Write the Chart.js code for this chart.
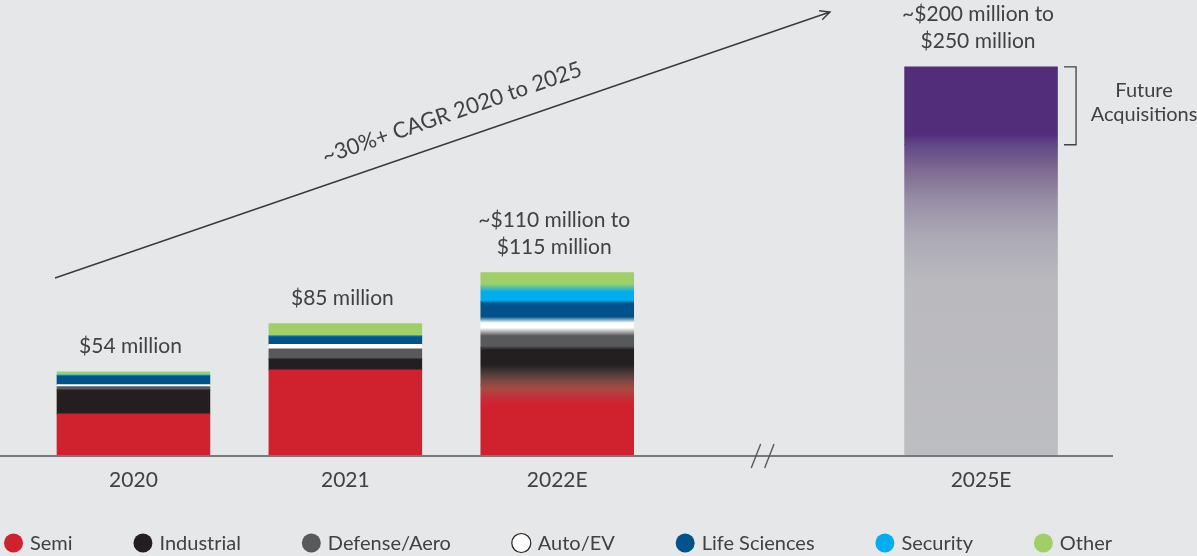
<!DOCTYPE html>
<html>
<head>
<meta charset="utf-8">
<script src="https://cdn.jsdelivr.net/npm/chart.js@4.4.1/dist/chart.umd.min.js"></script>
<style>
  html, body { margin: 0; padding: 0; background: #e6e7e8; }
  #wrap { width: 1197px; height: 556px; }
</style>
</head>
<body>
<div id="wrap"><canvas id="revenueChart"></canvas></div>
<script>
// revenue by end market, $ millions
const categories = ['2020', '2021', '2022E', '', '2025E'];
const segmentNames = ['Semi', 'Industrial', 'Defense/Aero', 'Auto/EV', 'Life Sciences', 'Security', 'Other'];
const semi = [27.0, 55.3, 45.7, null, null];
const industrial = [15.4, 7.1, 23.8, null, null];
const defenseAero = [2.1, 6.4, 10.3, null, null];
const autoEv = [1.3, 2.8, 7.7, null, null];
const lifeSciences = [5.6, 5.0, 11.6, null, null];
const security = [0.6, 0.8, 9.0, null, null];
const other = [1.9, 7.5, 9.6, null, null];
const base2025 = [null, null, null, null, 200];
const futureAcq2025 = [null, null, null, null, 50];
const totalLabels = [['$54 million'], ['$85 million'], ['~$110 million to', '$115 million'], [], ['~$200 million to', '$250 million']];
const cagrText = '~30%+ CAGR 2020 to 2025';
const bracketText = ['Future', 'Acquisitions'];

const segmentSeries = [semi, industrial, defenseAero, autoEv, lifeSciences, security, other];
const segmentColors = ['#d0212f', '#231f20', '#58595b', '#ffffff', '#00538a', '#00aeef', '#a0cf67'];
const blend2022 = [40, 4, 8, 6, 3, 8]; // px of soft fade between segments in the 2022E bar
const semiToIndustrialMids = ['#c2313a', '#a84a41', '#7e4740', '#4a3a38']; // brownish fade
const TEXT = '#414042';
const FONT = 'Lato';

function yPixels(chart, a, b) {
    const y = chart.scales && chart.scales.y;
    if (!y) return null;
    const p0 = y.getPixelForValue(a), p1 = y.getPixelForValue(b);
    return Number.isFinite(p0) && Number.isFinite(p1) && p0 !== p1 ? [p0, p1] : null;
}

function fadedStack(chart, idx, fallback) {
    const vals = segmentSeries.map(s => s[idx] || 0);
    const total = vals.reduce((a, b) => a + b, 0);
    const px = yPixels(chart, 0, total);
    if (!px) return fallback;
    const [y0, y1] = px;
    const h = y0 - y1;
    const g = chart.ctx.createLinearGradient(0, y0, 0, y1);
    const clamp = v => Math.max(0, Math.min(1, v));
    let cum = 0;
    g.addColorStop(0, segmentColors[0]);
    for (let i = 0; i < vals.length - 1; i++) {
        cum += vals[i];
        const f = cum / total, b = blend2022[i] / h / 2;
        g.addColorStop(clamp(f - b), segmentColors[i]);
        if (i === 0) {
            semiToIndustrialMids.forEach((c, k) => {
                g.addColorStop(clamp(f - b + (2 * b) * (k + 1) / (semiToIndustrialMids.length + 1)), c);
            });
        }
        g.addColorStop(clamp(f + b), segmentColors[i + 1]);
    }
    g.addColorStop(1, segmentColors[vals.length - 1]);
    return g;
}

function purpleFade(chart) {
    const px = yPixels(chart, 0, base2025[4] + futureAcq2025[4]);
    if (!px) return '#bdbec1';
    const g = chart.ctx.createLinearGradient(0, px[0], 0, px[1]);
    g.addColorStop(0, '#bdbec1');
    g.addColorStop(0.45, '#b9b9be');
    g.addColorStop(0.57, '#aba8b4');
    g.addColorStop(0.655, '#998fa6');
    g.addColorStop(0.74, '#7c6890');
    g.addColorStop(0.805, '#5e4483');
    g.addColorStop(0.826, '#522e7a');
    g.addColorStop(1, '#522e7a');
    return g;
}

const datasets = segmentSeries.map((data, i) => ({
    label: segmentNames[i],
    data: data,
    backgroundColor: c => (c.dataIndex === 2 ? fadedStack(c.chart, 2, segmentColors[i]) : segmentColors[i]),
    inLegend: true
}));
datasets.push({ label: 'Base', data: base2025, backgroundColor: c => purpleFade(c.chart), inLegend: false });
datasets.push({ label: 'Future Acquisitions', data: futureAcq2025, backgroundColor: c => purpleFade(c.chart), inLegend: false });

const decorations = {
    id: 'decorations',
    afterDatasetsDraw(chart) {
        const { ctx, chartArea, scales: { x, y } } = chart;
        ctx.save();
        // baseline
        ctx.strokeStyle = '#77787b';
        ctx.lineWidth = 2.2;
        ctx.beginPath();
        ctx.moveTo(0, chartArea.bottom);
        ctx.lineTo(chartArea.right + 26, chartArea.bottom);
        ctx.stroke();

        // axis break
        const bx = x.getPixelForValue(3) - 6.5;
        ctx.strokeStyle = '#58595b';
        ctx.lineWidth = 1.4;
        [-6.7, 6.7].forEach(dx => {
            ctx.beginPath();
            ctx.moveTo(bx + dx - 4.7, chartArea.bottom + 12);
            ctx.lineTo(bx + dx + 4.7, chartArea.bottom - 12);
            ctx.stroke();
        });

        // totals above bars
        ctx.fillStyle = TEXT;
        ctx.font = '21px ' + FONT;
        ctx.textAlign = 'center';
        ctx.textBaseline = 'middle';
        totalLabels.forEach((lines, i) => {
            if (!lines.length) return;
            const total = chart.data.datasets.reduce((s, d) => s + (d.data[i] || 0), 0);
            const top = y.getPixelForValue(total);
            lines.forEach((t, k) => {
                ctx.fillText(t, x.getPixelForValue(i) - 3, top - 26 - (lines.length - 1 - k) * 27);
            });
        });

        // CAGR arrow
        const ax0 = 55, ay0 = 278, ax1 = 830, ay1 = 12;
        const ang = Math.atan2(ay1 - ay0, ax1 - ax0);
        ctx.strokeStyle = '#3a3a3c';
        ctx.lineWidth = 1.4;
        ctx.beginPath();
        ctx.moveTo(ax0, ay0);
        ctx.lineTo(ax1, ay1);
        ctx.moveTo(ax1 - 11 * Math.cos(ang - 0.45), ay1 - 11 * Math.sin(ang - 0.45));
        ctx.lineTo(ax1, ay1);
        ctx.lineTo(ax1 - 11 * Math.cos(ang + 0.45), ay1 - 11 * Math.sin(ang + 0.45));
        ctx.stroke();
        ctx.save();
        ctx.translate(452, 113);
        ctx.rotate(ang);
        ctx.font = '22px ' + FONT;
        ctx.fillText(cagrText, 0, 0);
        ctx.restore();

        // future acquisitions bracket
        const yt = y.getPixelForValue(base2025[4] + futureAcq2025[4]);
        const yb = y.getPixelForValue(base2025[4]);
        const brx = x.getPixelForValue(4) + 95;
        ctx.strokeStyle = '#414042';
        ctx.lineWidth = 1.3;
        ctx.beginPath();
        ctx.moveTo(brx - 12, yt);
        ctx.lineTo(brx, yt);
        ctx.lineTo(brx, yb);
        ctx.lineTo(brx - 12, yb);
        ctx.stroke();
        ctx.font = '20px ' + FONT;
        ctx.fillText(bracketText[0], brx + 68, (yt + yb) / 2 - 15);
        ctx.fillText(bracketText[1], brx + 68, (yt + yb) / 2 + 9);
        ctx.restore();
    }
};

const legendRow = {
    id: 'legendRow',
    afterDraw(chart) {
        const { ctx } = chart;
        const items = chart.data.datasets.filter(d => d.inLegend);
        ctx.save();
        ctx.font = '20px ' + FONT;
        ctx.textBaseline = 'middle';
        ctx.textAlign = 'left';
        const widths = items.map(d => 26 + ctx.measureText(d.label).width);
        const span = 1108;
        const gap = (span - widths.reduce((a, b) => a + b, 0)) / (items.length - 1);
        let cx = 4;
        const cy = 543;
        items.forEach((d, i) => {
            const col = segmentColors[i];
            ctx.beginPath();
            ctx.arc(cx + 9.5, cy, 9.5, 0, Math.PI * 2);
            ctx.fillStyle = col;
            ctx.fill();
            if (col === '#ffffff') {
                ctx.strokeStyle = '#231f20';
                ctx.lineWidth = 1.2;
                ctx.stroke();
            }
            ctx.fillStyle = TEXT;
            ctx.fillText(d.label, cx + 26, cy + 1);
            cx += widths[i] + gap;
        });
        ctx.restore();
    }
};

new Chart(document.getElementById('revenueChart'), {
    type: 'bar',
    data: { labels: categories, datasets: datasets },
    options: {
        responsive: true,
        maintainAspectRatio: false,
        animation: false,
        layout: { padding: { left: 27.5, right: 110, top: 0, bottom: 0 } },
        datasets: { bar: { categoryPercentage: 1, barPercentage: 0.72, borderWidth: 0, inflateAmount: 0.5 } },
        plugins: { legend: { display: false }, tooltip: { enabled: false } },
        scales: {
            x: {
                stacked: true,
                grid: { display: false, drawTicks: false },
                border: { display: false },
                ticks: { color: TEXT, font: { family: FONT, size: 21 }, padding: 12 },
                afterFit: s => { s.height = 100; }
            },
            y: { stacked: true, display: false, min: 0, max: 293 }
        }
    },
    plugins: [decorations, legendRow]
});
</script>
</body>
</html>
